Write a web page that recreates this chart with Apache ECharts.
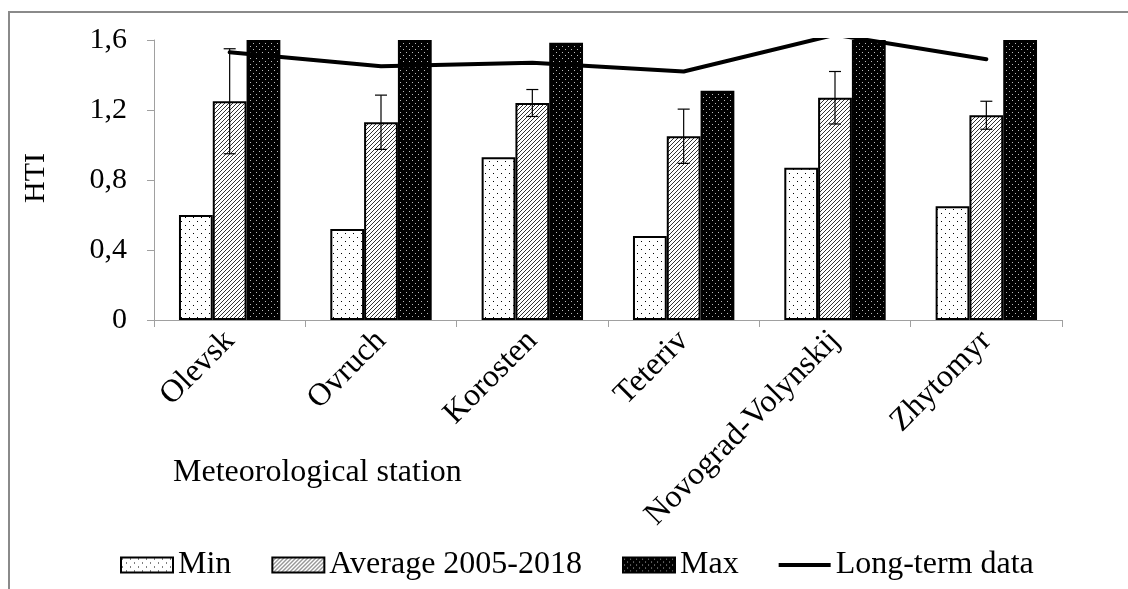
<!DOCTYPE html>
<html>
<head>
<meta charset="utf-8">
<script src="https://cdn.jsdelivr.net/npm/echarts@6/dist/echarts.min.js"></script>
<style>
html,body{margin:0;padding:0;background:#fff;}
#chart{width:1128px;height:589px;}
</style>
</head>
<body>
<div id="chart"></div>
<script>
// ---- data ----
const categories = ['Olevsk', 'Ovruch', 'Korosten', 'Teteriv', 'Novograd-Volynskij', 'Zhytomyr'];
const minValues = [0.60, 0.52, 0.93, 0.48, 0.87, 0.65];
const avgValues = [1.25, 1.13, 1.24, 1.05, 1.27, 1.17];
const avgErrors = [0.30, 0.155, 0.077, 0.155, 0.15, 0.08];
const maxValues = [1.60, 1.60, 1.585, 1.31, 1.60, 1.60];
const longTermValues = [1.53, 1.45, 1.47, 1.42, 1.63, 1.49];
const yTicks = [0, 0.4, 0.8, 1.2, 1.6];
const seriesNames = ['Min', 'Average 2005-2018', 'Max', 'Long-term data'];

// ---- patterns ----
function makePattern(w, h, draw) {
  const c = document.createElement('canvas');
  c.width = w; c.height = h;
  const ctx = c.getContext('2d');
  draw(ctx, w, h);
  return { image: c, repeat: 'repeat' };
}
const minPattern = makePattern(8, 8, (ctx, w, h) => {
  ctx.fillStyle = '#fff'; ctx.fillRect(0, 0, w, h);
  ctx.fillStyle = '#000';
  ctx.fillRect(1, 1, 1, 1);
  ctx.fillRect(5, 5, 1, 1);
});
const avgPattern = makePattern(4, 4, (ctx, w, h) => {
  ctx.fillStyle = '#fff'; ctx.fillRect(0, 0, w, h);
  ctx.strokeStyle = '#333'; ctx.lineWidth = 1;
  ctx.beginPath();
  ctx.moveTo(-1, 5); ctx.lineTo(5, -1);
  ctx.moveTo(-1, 1); ctx.lineTo(1, -1);
  ctx.moveTo(3, 5); ctx.lineTo(5, 3);
  ctx.stroke();
});
const maxPattern = makePattern(6, 6, (ctx, w, h) => {
  ctx.fillStyle = '#000'; ctx.fillRect(0, 0, w, h);
  ctx.fillStyle = '#bbb';
  ctx.fillRect(1, 1, 1, 1);
  ctx.fillRect(4, 4, 1, 1);
});

const errData = avgValues.map((v, i) => [i, v - avgErrors[i], v + avgErrors[i]]);

const FONT = 'Liberation Serif, Times New Roman, serif';
const chart = echarts.init(document.getElementById('chart'), null, { renderer: 'canvas' });

chart.setOption({
  animation: false,
  backgroundColor: '#fff',
  grid: { left: 154, top: 40, right: 66, bottom: 269, containLabel: false },
  legend: {
    data: [
      { name: seriesNames[0], icon: 'rect' },
      { name: seriesNames[1], icon: 'rect' },
      { name: seriesNames[2], icon: 'rect' },
      { name: seriesNames[3], icon: 'path://M0,0 L52,0 L52,4 L0,4 Z' }
    ],
    left: 115,
    top: 544,
    itemWidth: 52,
    itemHeight: 15,
    itemGap: 40,
    textStyle: { fontFamily: FONT, fontSize: 32, color: '#000' }
  },
  xAxis: {
    type: 'category',
    data: categories,
    boundaryGap: true,
    axisLine: { lineStyle: { color: '#a0a0a0', width: 1 } },
    axisTick: { show: true, length: 7, inside: false, lineStyle: { color: '#a0a0a0' } },
    axisLabel: {
      interval: 0, rotate: 45, margin: 16,
      fontFamily: FONT, fontSize: 32, color: '#000'
    }
  },
  yAxis: {
    type: 'value',
    min: yTicks[0],
    max: yTicks[yTicks.length - 1],
    interval: 0.4,
    splitLine: { show: false },
    axisLine: { show: true, lineStyle: { color: '#a0a0a0', width: 1 } },
    axisTick: { show: true, length: 7, lineStyle: { color: '#a0a0a0' } },
    axisLabel: {
      margin: 27,
      fontFamily: FONT, fontSize: 30, color: '#000',
      formatter: v => (v === 0 ? '0' : v.toFixed(1).replace('.', ','))
    }
  },
  graphic: [
    {
      type: 'rect', silent: true, z: -10,
      shape: { x: 9, y: 12, width: 1200, height: 700 },
      style: { fill: 'none', stroke: '#8a8a8a', lineWidth: 2 }
    },
    {
      type: 'text', x: 36, y: 178, rotation: Math.PI / 2,
      style: { text: 'HTI', fontFamily: FONT, fontSize: 30, fill: '#000', align: 'center', verticalAlign: 'middle' }
    },
    {
      type: 'text', x: 173, y: 473,
      style: { text: 'Meteorological station', fontFamily: FONT, fontSize: 32, fill: '#000', align: 'left', verticalAlign: 'middle' }
    }
  ],
  series: [
    {
      name: seriesNames[0], type: 'bar', data: minValues,
      barGap: '0%', barCategoryGap: '33%',
      itemStyle: { color: minPattern, borderColor: '#000', borderWidth: 2 }
    },
    {
      name: seriesNames[1], type: 'bar', data: avgValues,
      barGap: '0%', barCategoryGap: '33%',
      itemStyle: { color: avgPattern, borderColor: '#000', borderWidth: 2 }
    },
    {
      name: seriesNames[2], type: 'bar', data: maxValues,
      barGap: '0%', barCategoryGap: '33%',
      itemStyle: { color: maxPattern, borderColor: '#000', borderWidth: 2 }
    },
    {
      name: 'err', type: 'custom', data: errData, z: 5,
      renderItem: function (params, api) {
        const x = api.value(0);
        const lo = api.coord([x, api.value(1)]);
        const hi = api.coord([x, api.value(2)]);
        const hw = 6;
        const st = { stroke: '#000', lineWidth: 1.2 };
        return {
          type: 'group',
          children: [
            { type: 'line', shape: { x1: hi[0], y1: hi[1], x2: lo[0], y2: lo[1] }, style: st },
            { type: 'line', shape: { x1: hi[0] - hw, y1: hi[1], x2: hi[0] + hw, y2: hi[1] }, style: st },
            { type: 'line', shape: { x1: lo[0] - hw, y1: lo[1], x2: lo[0] + hw, y2: lo[1] }, style: st }
          ]
        };
      }
    },
    {
      name: seriesNames[3], type: 'line', data: longTermValues,
      symbol: 'none', showSymbol: false, z: 6,
      lineStyle: { color: '#000', width: 4, cap: 'round' },
      itemStyle: { color: '#000' }
    }
  ]
});
</script>
</body>
</html>
